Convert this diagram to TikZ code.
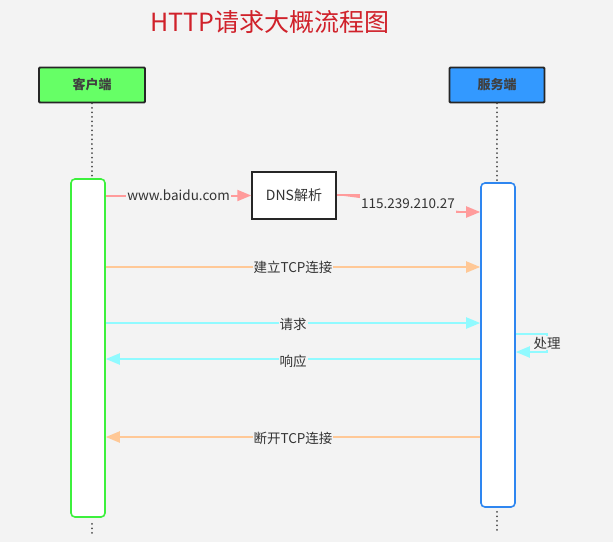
\documentclass[tikz,border=0pt]{standalone}
\usepackage{fontspec}
\setmainfont{Noto Sans CJK SC}
\usetikzlibrary{arrows.meta,calc}
\definecolor{bg}{HTML}{F3F3F3}
\definecolor{ttl}{HTML}{D0212A}
\definecolor{pinkc}{HTML}{FF9B9B}
\definecolor{orgc}{HTML}{FFC896}
\definecolor{cyanc}{HTML}{90FAFF}
\definecolor{cgreen}{HTML}{66FF66}
\definecolor{sblue}{HTML}{3399FF}
\definecolor{agreen}{HTML}{3CF03C}
\definecolor{ablue}{HTML}{2E86F0}
\definecolor{txt}{HTML}{333333}
\tikzset{
  head/.style={draw=black!85, line width=1.8pt, rounded corners=1pt, minimum height=35pt, inner sep=0pt, font=\bfseries\fontsize{13}{13}\selectfont, text=black!75},
  act/.style={draw, fill=white, line width=1.6pt, rounded corners=4pt, minimum width=34pt, inner sep=0pt},
  msg/.style={line width=2pt, -{Triangle[length=14pt,width=11pt]}},
  lbl/.style={fill=bg, inner sep=1pt, text=txt, font=\fontsize{13.5}{14}\selectfont},
  life/.style={line width=2pt, dash pattern=on 0.01pt off 4.5pt, line cap=round, draw=black!70},
}
\begin{document}
\begin{tikzpicture}[x=1pt,y=-1pt]
\useasboundingbox[fill=bg] (0,0) rectangle (613,542);
\node[text=ttl, font=\fontsize{25}{25}\selectfont] (title) at (270,22) {HTTP请求大概流程图};
\node[head, fill=cgreen, minimum width=106pt] (cl) at (92,85) {客户端};
\node[head, fill=sblue, minimum width=95pt] (sv) at (497,85) {服务端};
\node[act, draw=agreen, minimum height=338pt] (cact) at (88,348) {};
\node[act, draw=ablue, minimum height=324pt] (sact) at (498,345) {};
\draw[life] (cl.south) -- (cl.south |- cact.north);
\draw[life] (sv.south) -- (sv.south |- sact.north);
\draw[life] ([yshift=-6pt]cl.south |- cact.south) -- ++(0,10);
\draw[life] ([yshift=-4pt]sv.south |- sact.south) -- ++(0,20);
\node[draw=black!85, fill=white, line width=1.5pt, minimum width=84pt, minimum height=47pt, inner sep=0pt, text=txt, font=\fontsize{14}{14}\selectfont] (dns) at (294,195.5) {DNS解析};
% www.baidu.com
\draw[msg, draw=pinkc, fill=pinkc] (cact.east |- dns.west) -- (dns.west)
  node[lbl, pos=0.5] (l1) {www.baidu.com};
% DNS -> server
\coordinate (y2) at (0,212);
\draw[msg, draw=pinkc, fill=pinkc] (dns.east |- 0,195) -- (408,195) -- (408,212) -- (sact.west |- y2);
\node[lbl, minimum height=24pt] (l2) at (408,203.5) {115.239.210.27};
% TCP connect
\coordinate (y3) at (0,267);
\draw[msg, draw=orgc] (cact.east |- y3) -- (sact.west |- y3)
  node[lbl, pos=0.5] (l3) {建立TCP连接};
% request
\coordinate (y4) at (0,323);
\draw[msg, draw=cyanc] (cact.east |- y4) -- (sact.west |- y4)
  node[lbl, pos=0.5, yshift=-1pt] (l4) {请求};
% process
\coordinate (y5a) at (0,334);
\coordinate (y5b) at (0,352);
\draw[msg, draw=cyanc] (sact.east |- y5a) -- (547,334) -- (547,352) -- (sact.east |- y5b);
\node[lbl] (l5) at (547,343) {处理};
% response
\coordinate (y6) at (0,359);
\draw[msg, draw=cyanc] (sact.west |- y6) -- (cact.east |- y6)
  node[lbl, pos=0.5, yshift=-2pt] (l6) {响应};
% disconnect
\coordinate (y7) at (0,437);
\draw[msg, draw=orgc] (sact.west |- y7) -- (cact.east |- y7)
  node[lbl, pos=0.5, yshift=-1pt] (l7) {断开TCP连接};
\end{tikzpicture}
\end{document}
